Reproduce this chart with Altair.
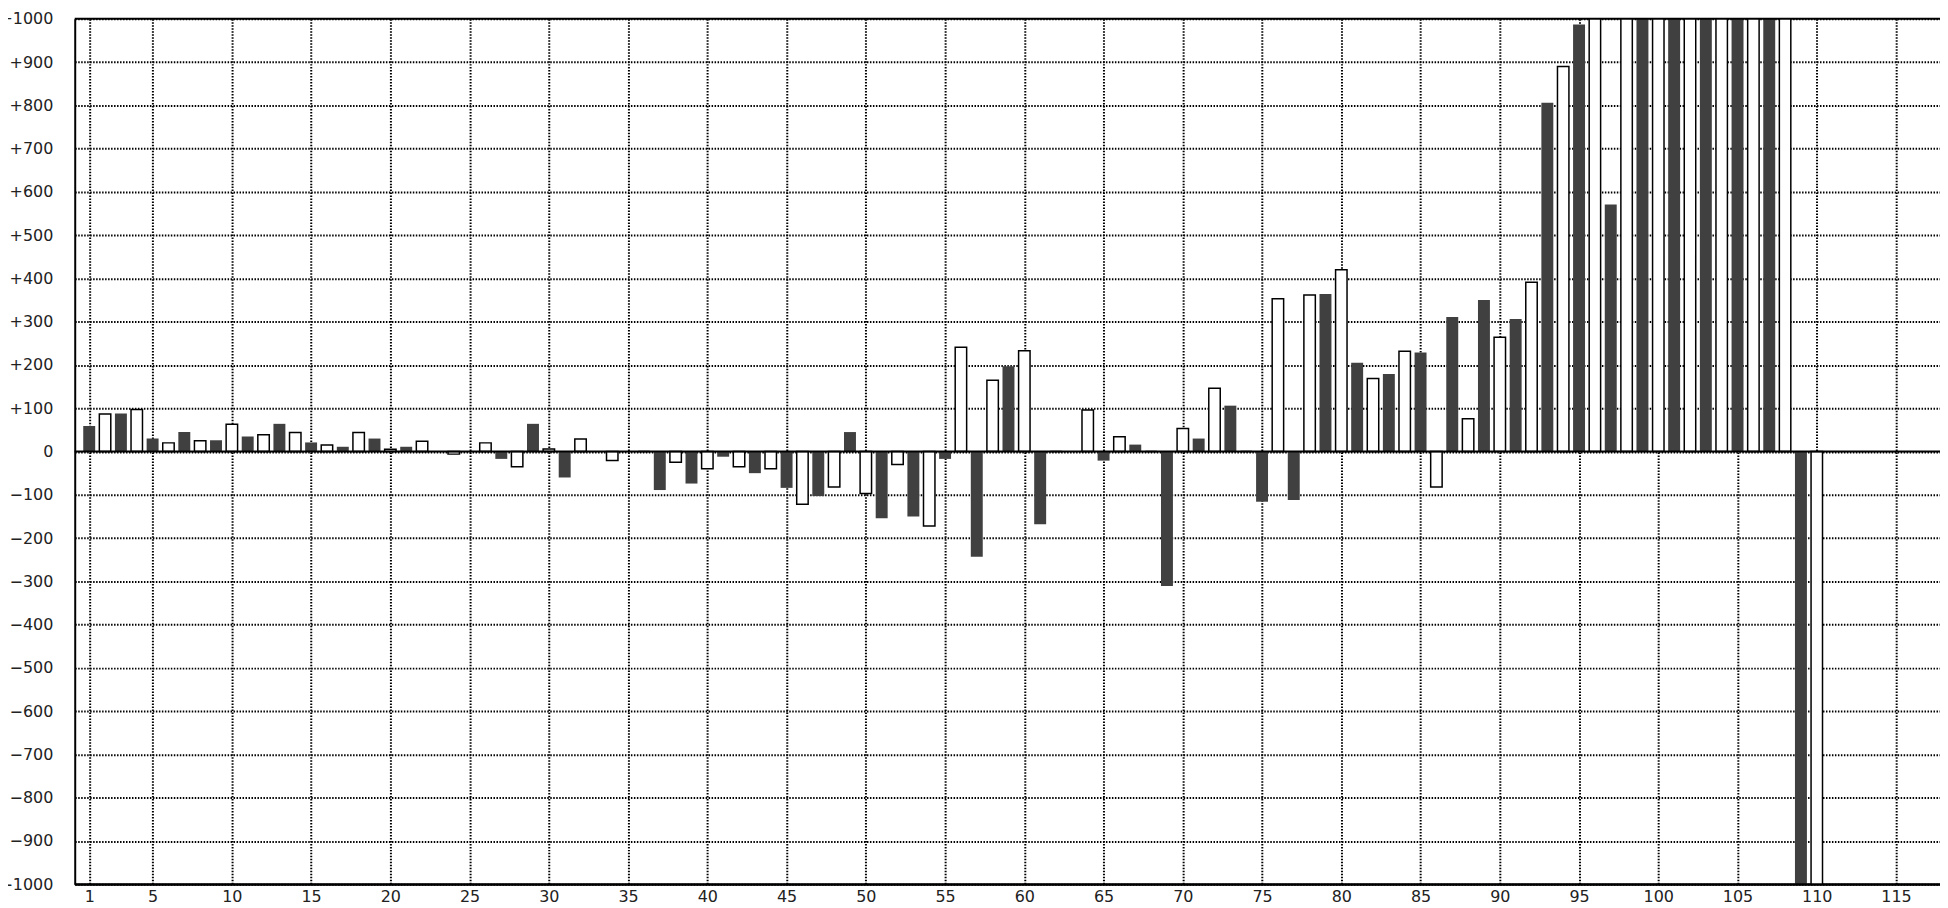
import altair as alt
import pandas as pd

# Odd positions: dark filled bars
dark_positions = list(range(1, 110, 2))
dark_values = [59, 88, 30, 45, 26, 35, 64, 21, 11, 30,
               11, 0, 0, -17, 64, -60, 0, 0, -89, -74,
               -12, -50, -84, -103, 45, -154, -150, -17, -243, 197,
               -168, 0, -21, 16, -311, 30, 106, -116, -112, 364,
               205, 179, 229, 311, 350, 306, 806, 987, 571, 1300,
               1400, 1420, 1500, 1520, -1200]

# Even positions: white outlined bars
light_positions = list(range(2, 111, 2))
light_values = [87, 97, 20, 25, 63, 39, 44, 15, 44, 5,
                24, -6, 20, -35, 6, 29, -21, 0, -25, -40,
                -35, -40, -122, -82, -97, -30, -172, 241, 165, 233,
                0, 96, 34, 0, 53, 146, 0, 353, 362, 420,
                169, 232, -82, 76, 264, 391, 890, 1150, 1250, 1350,
                1380, 1450, 1480, 1400, -1150]

x_tick_values = [1] + list(range(5, 116, 5))
y_tick_values = list(range(-1000, 1001, 100))
border_values = [-1000, 0, 1000]

dark_df = pd.DataFrame({"pos": dark_positions, "value": dark_values})
light_df = pd.DataFrame({"pos": light_positions, "value": light_values})
border_df = pd.DataFrame({"v": border_values})

x_scale = alt.Scale(domain=[0.4, 117.46], nice=False, zero=False)
y_scale = alt.Scale(domain=[-1000, 1000], nice=False)

common = dict(
    grid=True, gridColor="black", gridDash=[1.5, 1.5], gridWidth=2,
    ticks=False, domain=True, domainColor="black", domainWidth=2,
    labelFont="DejaVu Sans", labelFontSize=16, labelColor="#222222",
    labelOverlap=False, title=None,
)
x_axis = alt.Axis(values=x_tick_values, format="d", labelPadding=4,
                  labelFlush=False, **common)
y_axis = alt.Axis(values=y_tick_values, format="d", labelPadding=22,
                  labelExpr="datum.value > 0 ? '+' + datum.label : datum.label",
                  **common)

dark = alt.Chart(dark_df).mark_bar(color="#404040", size=12, clip=True).encode(
    x=alt.X("pos:Q", scale=x_scale, axis=x_axis),
    y=alt.Y("value:Q", scale=y_scale, axis=y_axis),
)
light = alt.Chart(light_df).mark_bar(
    fill="white", stroke="black", strokeWidth=1.5, size=11.5, clip=True
).encode(
    x=alt.X("pos:Q", scale=x_scale, axis=x_axis),
    y=alt.Y("value:Q", scale=y_scale, axis=y_axis),
)
borders = alt.Chart(border_df).mark_rule(color="black", strokeWidth=2).encode(
    y=alt.Y("v:Q", scale=y_scale, axis=y_axis),
)

chart = alt.layer(dark, light, borders).properties(
    width=1873,
    height=869,
    autosize=alt.AutoSizeParams(type="none"),
    padding={"left": 67, "top": 9, "right": 0, "bottom": 22},
).configure_view(stroke=None)

chart.save("out.html", embed_options={"renderer": "svg", "actions": False})
